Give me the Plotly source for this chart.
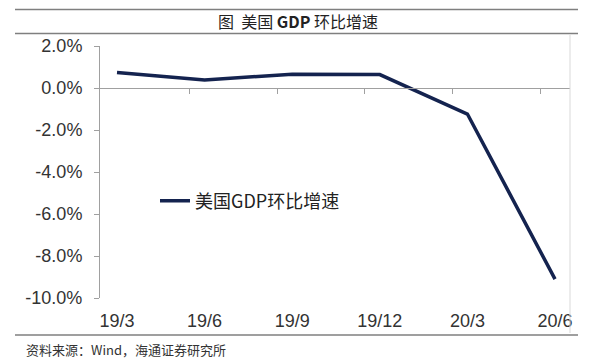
import plotly.graph_objects as go

# Data
categories = ["19/3", "19/6", "19/9", "19/12", "20/3", "20/6"]
gdp_qoq = [0.74, 0.38, 0.66, 0.64, -1.24, -9.1]
y_ticks = [2, 0, -2, -4, -6, -8, -10]
y_tick_labels = ["2.0%", "0.0%", "-2.0%", "-4.0%", "-6.0%", "-8.0%", "-10.0%"]
series_name = "美国GDP环比增速"
title_text = "图  美国 <b>GDP</b> 环比增速"
source_text = "资料来源：Wind，海通证券研究所"

W, H = 600, 362
ML, MR, MT, MB = 100, 30, 46, 64
pw, ph = W - ML - MR, H - MT - MB

def px_x(p):
    return (p - ML) / pw

def px_y(p):
    return (H - MB - p) / ph

xpos = list(range(len(categories)))
line_color = "#14234f"
txt_color = "#333333"
axis_color = "#a0a0a0"
cjk = "Noto Sans CJK SC"

fig = go.Figure()
fig.add_trace(go.Scatter(
    x=xpos, y=gdp_qoq, mode="lines", name=series_name,
    line=dict(color=line_color, width=3.5),
    xaxis="x", yaxis="y",
))
# empty trace so the zero-line axis (xaxis2) renders
fig.add_trace(go.Scatter(x=[None], y=[None], xaxis="x2", yaxis="y",
                         showlegend=False, hoverinfo="skip"))

x_range = [-0.194, 5.171]
tick_marks = [i + 0.83 for i in range(len(categories) - 1)]

fig.update_layout(
    width=W, height=H,
    margin=dict(l=ML, r=MR, t=MT, b=MB, autoexpand=False),
    paper_bgcolor="white", plot_bgcolor="white",
    showlegend=True,
    legend=dict(x=px_x(155), y=px_y(201), xanchor="left", yanchor="middle",
                font=dict(family=cjk, size=18, color="#222222"),
                bgcolor="rgba(0,0,0,0)", itemwidth=30),
    xaxis=dict(
        range=x_range, tickmode="array", tickvals=xpos, ticktext=categories,
        showline=False, ticks="", showgrid=False, zeroline=False,
        tickfont=dict(family="Liberation Sans, Arial", size=18, color=txt_color),
        ticklabelstandoff=10,
    ),
    xaxis2=dict(
        range=x_range, overlaying="x", anchor="free", position=10 / 12,
        showline=True, linecolor=axis_color, linewidth=1,
        tickmode="array", tickvals=tick_marks, ticks="outside", ticklen=5,
        tickcolor=axis_color, showticklabels=False, showgrid=False, zeroline=False,
        side="bottom",
    ),
    yaxis=dict(
        range=[-10, 2], tickmode="array", tickvals=y_ticks, ticktext=y_tick_labels,
        showline=True, linecolor=axis_color, linewidth=1,
        ticks="outside", ticklen=5, tickcolor=axis_color,
        showgrid=False, zeroline=False,
        tickfont=dict(family="Liberation Sans, Arial", size=18, color=txt_color),
        ticklabelstandoff=8,
    ),
)

# Title and source
fig.add_annotation(text=title_text, xref="paper", yref="paper",
                   x=px_x(298), y=px_y(21.5), xanchor="center", yanchor="middle",
                   showarrow=False, font=dict(family=cjk, size=16, color="#222222"))
fig.add_annotation(text=source_text, xref="paper", yref="paper",
                   x=px_x(24), y=px_y(349), xanchor="left", yanchor="middle",
                   showarrow=False, font=dict(family=cjk, size=13, color=txt_color))

# Decorative rules
rule = dict(color="#7f7f7f", width=1.5)
for yy in (9.5, 33.5, 335):
    fig.add_shape(type="line", xref="paper", yref="paper",
                  x0=px_x(15), x1=px_x(578), y0=px_y(yy), y1=px_y(yy), line=rule)
fig.add_shape(type="line", xref="paper", yref="paper",
              x0=px_x(570), x1=px_x(570), y0=px_y(35), y1=px_y(333),
              line=dict(color="#d9d9d9", width=1))

fig.write_html("out.html", config={"displayModeBar": False},
               post_script="document.body.style.margin='0';document.body.style.overflow='hidden';")
